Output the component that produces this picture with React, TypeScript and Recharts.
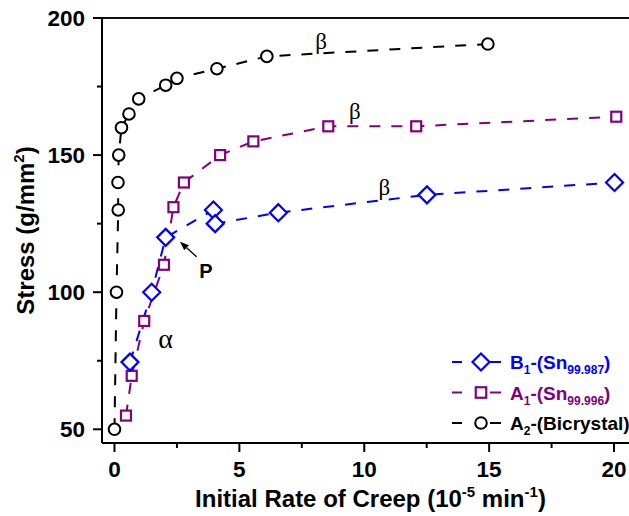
import {
  ComposedChart,
  Line,
  XAxis,
  YAxis,
  Legend,
  Label,
  ReferenceLine,
  ReferenceDot,
} from "recharts";

// B1-(Sn99.987)
const b1Rate = [0.62, 1.49, 2.05, 3.96, 4.03, 6.56, 12.51, 20.02];
const b1Stress = [74.5, 100, 120, 130, 125, 129, 135.5, 140];

// A1-(Sn99.996)
const a1Rate = [0.46, 0.69, 1.19, 1.98, 2.36, 2.78, 4.23, 5.56, 8.56, 12.08, 20.09];
const a1Stress = [55, 69.5, 89.5, 110, 131, 140, 150, 155, 160.5, 160.5, 164];

// A2-(Bicrystal)
const a2Rate = [0, 0.08, 0.15, 0.14, 0.17, 0.28, 0.58, 0.97, 2.05, 2.5, 4.1, 6.1, 14.95];
const a2Stress = [50, 100, 130, 140, 150, 160, 165, 170.5, 175.5, 178, 181.5, 186, 190.5];

const xTicks = [0, 2.5, 5, 7.5, 10, 12.5, 15, 17.5, 20];
const yTicks = [50, 75, 100, 125, 150, 175, 200];

// regime labels on the curves
const notes = [
  { text: "β", x: 8.27, y: 188.7, size: 23, serif: true },
  { text: "β", x: 9.62, y: 163, size: 23, serif: true },
  { text: "β", x: 10.8, y: 135.6, size: 23, serif: true },
  { text: "α", x: 2.05, y: 79.6, size: 28, serif: true },
  { text: "P", x: 3.66, y: 105.1, size: 20, serif: false },
];
const arrowFrom = { x: 3.29, y: 112.9 };
const arrowTo = { x: 2.62, y: 118.4 };

type Shape = "diamond" | "square" | "circle";

const series = [
  { key: "b1", name: "B", idx: "1", mat: "Sn", grade: "99.987", rate: b1Rate, stress: b1Stress, color: "#0000ff", shape: "diamond" as Shape },
  { key: "a1", name: "A", idx: "1", mat: "Sn", grade: "99.996", rate: a1Rate, stress: a1Stress, color: "#800080", shape: "square" as Shape },
  { key: "a2", name: "A", idx: "2", mat: "Bicrystal", grade: "", rate: a2Rate, stress: a2Stress, color: "#000000", shape: "circle" as Shape },
];

const SANS = "'Liberation Sans', Arial, sans-serif";
const SERIF = "'Liberation Serif', 'Times New Roman', serif";
const TICK_SIZE = 9;
const TICK_MARGIN = 8;

function Marker({ shape, cx, cy, color, s = 1 }: { shape: Shape; cx: number; cy: number; color: string; s?: number }) {
  if (shape === "diamond") {
    const r = 8.5 * s;
    return (
      <path
        d={`M${cx} ${cy - r}L${cx + r} ${cy}L${cx} ${cy + r}L${cx - r} ${cy}Z`}
        fill="#fff"
        stroke={color}
        strokeWidth={2.2}
      />
    );
  }
  if (shape === "square") {
    const h = 5 * s;
    return <rect x={cx - h} y={cy - h} width={2 * h} height={2 * h} fill="#fff" stroke={color} strokeWidth={2.2} />;
  }
  return <circle cx={cx} cy={cy} r={5.8 * s} fill="#fff" stroke={color} strokeWidth={2} />;
}

function XTick(props: any) {
  const { x, y, payload } = props;
  const axisY = y - TICK_SIZE - TICK_MARGIN;
  const major = payload.value % 5 === 0;
  return (
    <g>
      <line x1={x} x2={x} y1={axisY} y2={axisY + (major ? 9 : 5)} stroke="#000" strokeWidth={2} />
      {major && (
        <text x={x} y={axisY + 34} textAnchor="middle" fontFamily={SANS} fontWeight="bold" fontSize={22.5} fill="#000">
          {payload.value}
        </text>
      )}
    </g>
  );
}

function YTick(props: any) {
  const { x, y, payload } = props;
  const axisX = x + TICK_SIZE + TICK_MARGIN;
  const major = payload.value % 50 === 0;
  return (
    <g>
      <line x1={axisX} x2={axisX - (major ? 9 : 5)} y1={y} y2={y} stroke="#000" strokeWidth={2} />
      {major && (
        <text x={x} y={y + 8} textAnchor="end" fontFamily={SANS} fontWeight="bold" fontSize={22.5} fill="#000">
          {payload.value}
        </text>
      )}
    </g>
  );
}

function XTitle(props: any) {
  const vb = props.viewBox || { x: 102, y: 443, width: 537, height: 73 };
  return (
    <text x={vb.x + vb.width / 2} y={vb.y + 64} textAnchor="middle" fontFamily={SANS} fontWeight="bold" fontSize={24} fill="#000">
      Initial Rate of Creep (10
      <tspan fontSize={15} dy={-10}>-5</tspan>
      <tspan dy={10}> min</tspan>
      <tspan fontSize={15} dy={-10}>-1</tspan>
      <tspan dy={10}>)</tspan>
    </text>
  );
}

function YTitle(props: any) {
  const vb = props.viewBox || { x: 0, y: 18, width: 102, height: 425 };
  const cx = vb.x + 34;
  const cy = vb.y + vb.height / 2;
  return (
    <text
      x={cx}
      y={cy}
      transform={`rotate(-90 ${cx} ${cy})`}
      textAnchor="middle"
      fontFamily={SANS}
      fontWeight="bold"
      fontSize={24}
      fill="#000"
    >
      Stress (g/mm
      <tspan fontSize={15} dy={-10}>2</tspan>
      <tspan dy={10}>)</tspan>
    </text>
  );
}

function LegendBox() {
  return (
    <svg width={190} height={95} style={{ display: "block", overflow: "visible" }}>
      {series.map((s, i) => {
        const cy = 17 + i * 30.5;
        return (
          <g key={s.key}>
            <line x1={2} x2={12} y1={cy} y2={cy} stroke={s.color} strokeWidth={2} />
            <line x1={40} x2={51} y1={cy} y2={cy} stroke={s.color} strokeWidth={2} />
            <Marker shape={s.shape} cx={31} cy={cy} color={s.color} s={s.shape === "square" ? 1.05 : 1} />
            <text x={60} y={cy + 7} fontFamily={SANS} fontWeight="bold" fontSize={19} fill={s.color}>
              {s.name}
              <tspan fontSize={12} dy={5}>{s.idx}</tspan>
              <tspan dy={-5}>-({s.mat}</tspan>
              {s.grade && (
                <tspan fontSize={12} dy={5}>
                  {s.grade}
                </tspan>
              )}
              <tspan dy={s.grade ? -5 : 0}>)</tspan>
            </text>
          </g>
        );
      })}
    </svg>
  );
}

function Arrow(props: any) {
  const { x1, y1, x2, y2 } = props;
  const a = Math.atan2(y2 - y1, x2 - x1);
  const len = 9;
  const w = 3.5;
  const bx = x2 - len * Math.cos(a);
  const by = y2 - len * Math.sin(a);
  const px = -Math.sin(a) * w;
  const py = Math.cos(a) * w;
  return (
    <g>
      <line x1={x1} y1={y1} x2={bx} y2={by} stroke="#000" strokeWidth={1.3} />
      <path d={`M${x2} ${y2}L${bx + px} ${by + py}L${bx - px} ${by - py}Z`} fill="#000" />
    </g>
  );
}

export default function App() {
  return (
    <div
      style={{
        position: "fixed",
        left: 0,
        top: 0,
        width: 629,
        height: 516,
        overflow: "hidden",
        background: "#fff",
      }}
    >
      <ComposedChart width={639} height={516} margin={{ top: 18, right: 0, bottom: 0, left: 0 }}>
        <XAxis
          type="number"
          dataKey="x"
          domain={[-0.5, 21]}
          ticks={xTicks}
          allowDataOverflow
          height={73}
          tick={<XTick />}
          tickLine={false}
          tickSize={TICK_SIZE}
          tickMargin={TICK_MARGIN}
          axisLine={{ stroke: "#000", strokeWidth: 2 }}
        >
          <Label content={<XTitle />} />
        </XAxis>
        <YAxis
          type="number"
          dataKey="y"
          domain={[45, 200]}
          ticks={yTicks}
          allowDataOverflow
          width={102}
          tick={<YTick />}
          tickLine={false}
          tickSize={TICK_SIZE}
          tickMargin={TICK_MARGIN}
          axisLine={{ stroke: "#000", strokeWidth: 2 }}
        >
          <Label content={<YTitle />} />
        </YAxis>
        <ReferenceLine y={200} stroke="#111" strokeWidth={2} />
        {[...series].reverse().map((s) => (
          <Line
            key={s.key}
            data={s.rate.map((x, i) => ({ x, y: s.stress[i] }))}
            dataKey="y"
            name={s.key}
            type="linear"
            stroke={s.color}
            strokeWidth={2}
            strokeDasharray="11 11"
            isAnimationActive={false}
            dot={(p: any) => <Marker key={`${s.key}-${p.index}`} shape={s.shape} cx={p.cx} cy={p.cy} color={s.color} />}
            activeDot={false}
          />
        ))}
        {notes.map((n, i) => (
          <ReferenceDot
            key={i}
            x={n.x}
            y={n.y}
            r={0}
            shape={(p: any) => (
              <text
                x={p.cx}
                y={p.cy}
                textAnchor="middle"
                fontFamily={n.serif ? SERIF : SANS}
                fontWeight={n.serif ? "normal" : "bold"}
                fontSize={n.size}
                fill="#000"
              >
                {n.text}
              </text>
            )}
          />
        ))}
        <ReferenceLine
          segment={[arrowFrom, arrowTo]}
          shape={(p: any) => <Arrow {...p} />}
        />
        <Legend
          verticalAlign="middle"
          layout="horizontal"
          content={() => <LegendBox />}
          wrapperStyle={{ left: 450, top: 345, width: 190, height: 95 }}
        />
      </ComposedChart>
    </div>
  );
}
